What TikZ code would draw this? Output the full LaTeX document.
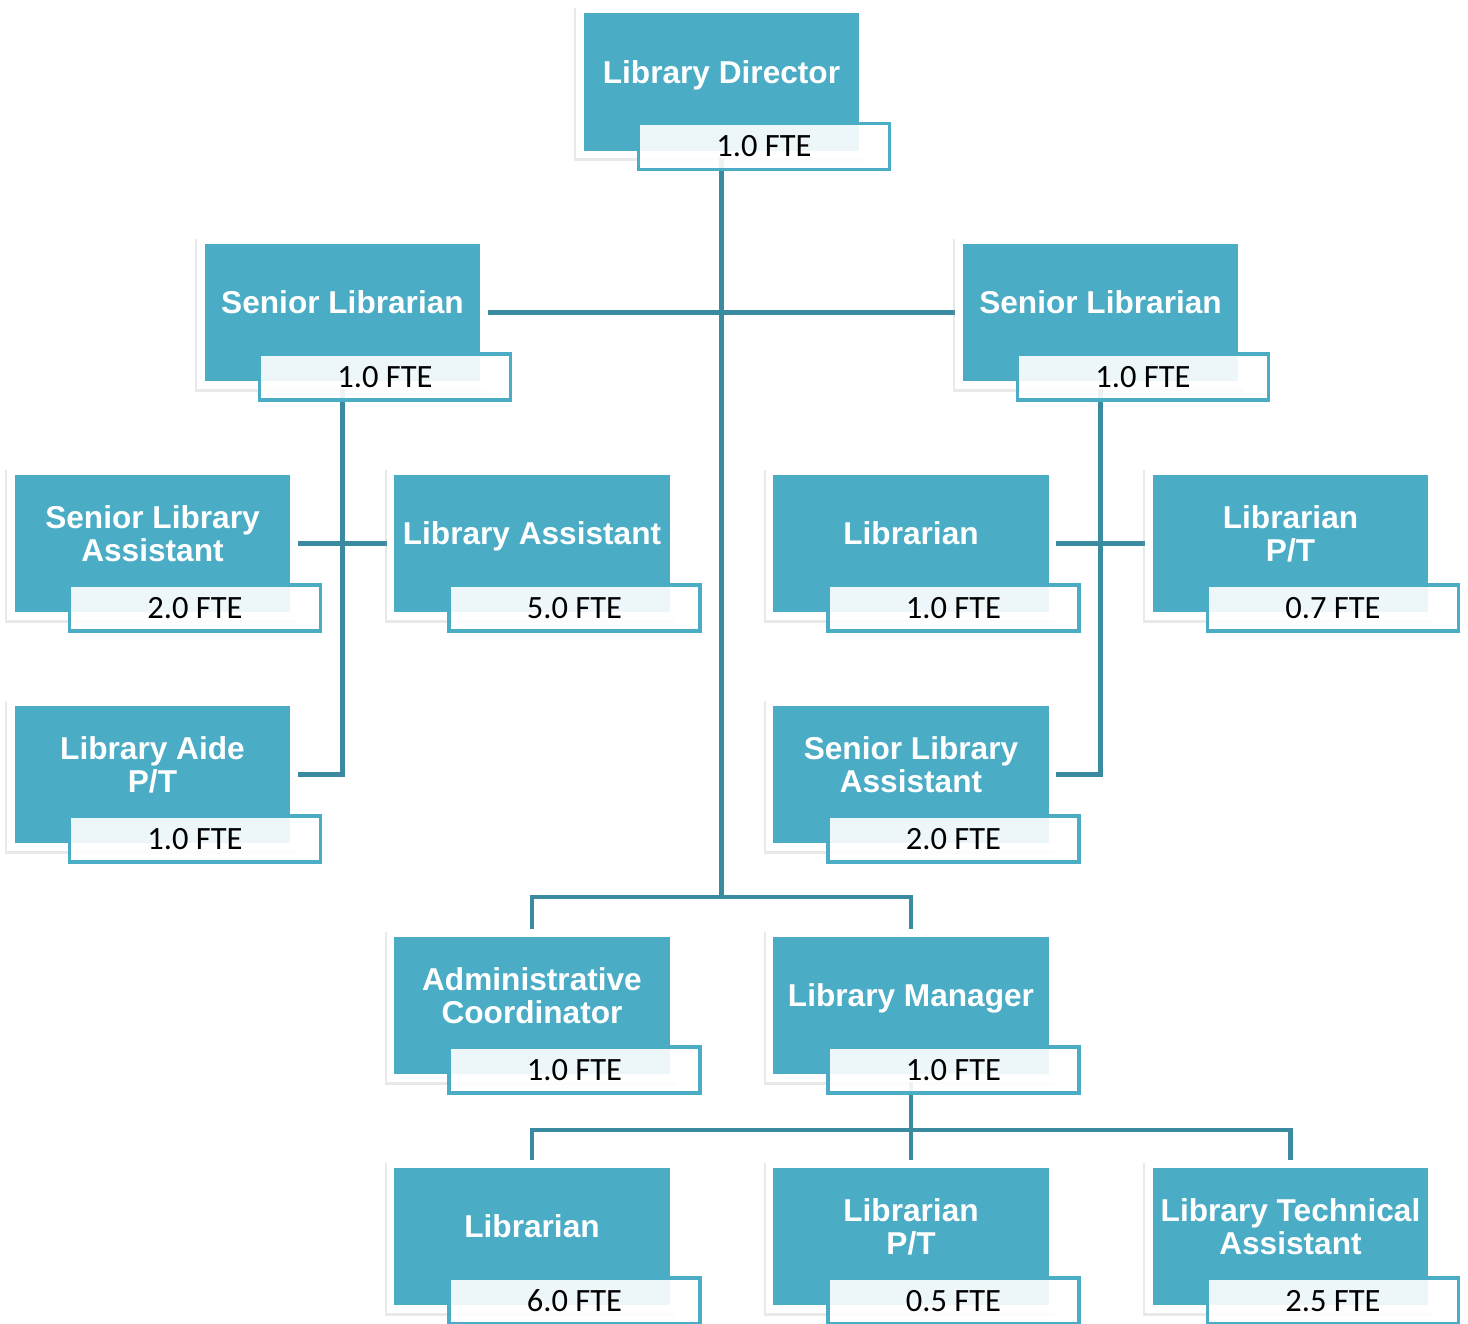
\documentclass[tikz,border=0pt]{standalone}
\usepackage{fontspec}
\setmainfont{Liberation Sans}
\newfontfamily\ftefont{Carlito}
\usetikzlibrary{backgrounds}
\definecolor{boxteal}{HTML}{4BACC6}
\definecolor{lineteal}{HTML}{3A8BA0}

\begin{document}
\begin{tikzpicture}[x=0.02cm,y=-0.02cm]
\tikzstyle{post}=[rectangle,fill=boxteal,draw=white,line width=4.5pt,minimum width=5.66cm,minimum height=2.9cm,inner sep=0pt,text=white,align=center,font=\bfseries\fontsize{18}{19}\selectfont,execute at end node={\rule[-11.5pt]{0pt}{11.5pt}},preaction={fill=black!40,draw=black!40,opacity=0.22,transform canvas={xshift=-1pt,yshift=-1.5pt}}]
\tikzstyle{fte}=[rectangle,fill=white,fill opacity=0.9,text opacity=1,draw=boxteal,draw opacity=1,line width=2pt,minimum width=5.02cm,minimum height=0.92cm,inner sep=0pt,font=\ftefont\fontsize{18.5}{20}\selectfont]
\tikzstyle{link}=[draw=lineteal,line width=2.3pt]
\useasboundingbox (0,0) rectangle (1468,1324);
% top
\node[post] (D) at (721.5,82) {Library Director};
\node[fte] (D_f) at (764,146.5) {1.0 FTE};
\node[post] (S_1) at (342.5,312.5) {Senior Librarian};
\node[fte] (S_1f) at (385,377) {1.0 FTE};
\node[post] (S_2) at (1100.5,312.5) {Senior Librarian};
\node[fte] (S_2f) at (1143,377) {1.0 FTE};
% under the senior librarians
\node[post] (SA_1) at (152.5,543.5) {Senior Library\\Assistant};
\node[fte] (SA_1f) at (195,608) {2.0 FTE};
\node[post] (LA) at (532,543.5) {Library Assistant};
\node[fte] (LA_f) at (574.5,608) {5.0 FTE};
\node[post] (L_1) at (911,543.5) {Librarian};
\node[fte] (L_1f) at (953.5,608) {1.0 FTE};
\node[post] (LP_1) at (1290.5,543.5) {Librarian\\P/T};
\node[fte] (LP_1f) at (1333,608) {0.7 FTE};
\node[post] (A_1) at (152.5,774.5) {Library Aide\\P/T};
\node[fte] (A_1f) at (195,839) {1.0 FTE};
\node[post] (SA_2) at (911,774.5) {Senior Library\\Assistant};
\node[fte] (SA_2f) at (953.5,839) {2.0 FTE};
% bottom
\node[post] (AC) at (532,1005.5) {Administrative\\Coordinator};
\node[fte] (AC_f) at (574.5,1070) {1.0 FTE};
\node[post] (LM) at (911,1005.5) {Library Manager};
\node[fte] (LM_f) at (953.5,1070) {1.0 FTE};
\node[post] (L_2) at (532,1236.5) {Librarian};
\node[fte] (L_2f) at (574.5,1301) {6.0 FTE};
\node[post] (LP_2) at (911,1236.5) {Librarian\\P/T};
\node[fte] (LP_2f) at (953.5,1301) {0.5 FTE};
\node[post] (LT) at (1290.5,1236.5) {Library Technical\\Assistant};
\node[fte] (LT_f) at (1333,1301) {2.5 FTE};
\coordinate (T) at (721.5,897);
\coordinate (M) at (911,1130);
\begin{pgfonlayer}{background}
\draw[link] (D) -- (T);
\draw[link] (S_1) -- (S_2);
\draw[link] (S_1) |- (A_1);
\draw[link] (SA_1) -- (LA);
\draw[link] (S_2) |- (SA_2);
\draw[link] (L_1) -- (LP_1);
\draw[link] (AC) |- (T) -| (LM);
\draw[link] (LM) -- (LP_2);
\draw[link] (L_2) |- (M) -| (LT);
\end{pgfonlayer}
\end{tikzpicture}
\end{document}
